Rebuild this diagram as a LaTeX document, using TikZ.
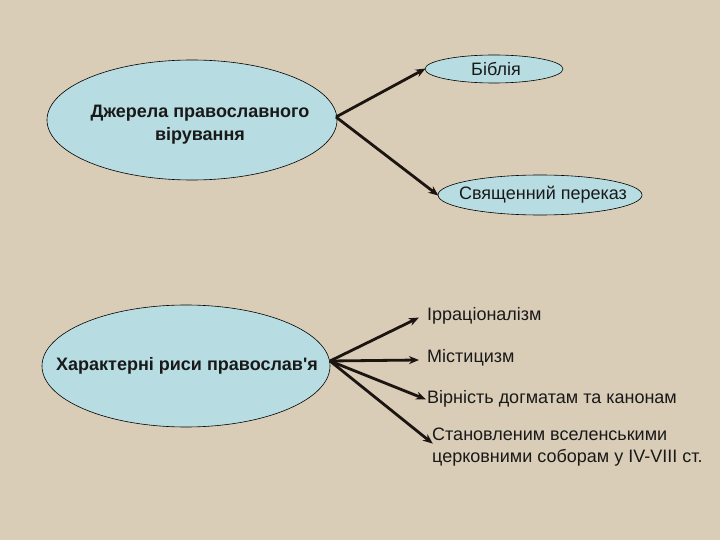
\documentclass[tikz,border=0pt]{standalone}
\usepackage{fontspec}
\setmainfont{Liberation Sans}[Ligatures=TeXOff]
\usetikzlibrary{shapes.geometric,arrows.meta}
\definecolor{bgtan}{RGB}{218,205,183}
\definecolor{ellfill}{RGB}{183,221,227}
\definecolor{arrowcol}{RGB}{28,20,16}
\begin{document}
\begin{tikzpicture}[x=1pt,y=-1pt,
  oval/.style={ellipse,draw=black,line width=0.6pt,fill=ellfill,inner sep=0pt},
  bigtxt/.style={font=\fontsize{18}{23}\selectfont\bfseries,align=center,text=black!90},
  smalltxt/.style={font=\fontsize{18}{21.5}\selectfont,text=black!90},
  arr/.style={draw=arrowcol,line width=2.8pt,-{Stealth[length=10pt,width=8pt]},shorten >=-1pt}
]
\fill[bgtan] (0,0) rectangle (720,540);
\useasboundingbox (0,0) rectangle (720,540);

% top group
\node[oval,minimum width=290,minimum height=120] (src) at (192,120) {};
\node[bigtxt] at (200,125) {Джерела православного\\вірування};
\node[oval,minimum width=138,minimum height=28] (bib) at (494,69) {};
\node[smalltxt] at (496,69) {Біблія};
\node[oval,minimum width=204,minimum height=40] (tra) at (540,195) {};
\node[smalltxt] at (543,195) {Священний переказ};
\coordinate (s1) at (336,117);
\draw[arr] (s1) -- (bib.west);
\draw[arr] (s1) -- (tra.west);

% bottom group
\node[oval,minimum width=288,minimum height=122] (feat) at (186,366) {};
\node[bigtxt] at (187,366) {Характерні риси православ'я};
\coordinate (s2) at (330,361);
\node[smalltxt,anchor=west,inner sep=0pt] (f1) at (427,316) {Ірраціоналізм};
\node[smalltxt,anchor=west,inner sep=0pt] (f2) at (427,358) {Містицизм};
\node[smalltxt,anchor=west,inner sep=0pt] (f3) at (427,399) {Вірність догматам та канонам};
\node[smalltxt,anchor=north west,inner sep=0pt,align=left] (f4) at (432,428) {Становленим вселенськими\\церковними соборам у IV-VIII ст.};
\draw[arr] (s2) -- (418,318);
\draw[arr] (s2) -- (418,360);
\draw[arr] (s2) -- (425,399);
\draw[arr] (s2) -- (432,443);
\end{tikzpicture}
\end{document}
